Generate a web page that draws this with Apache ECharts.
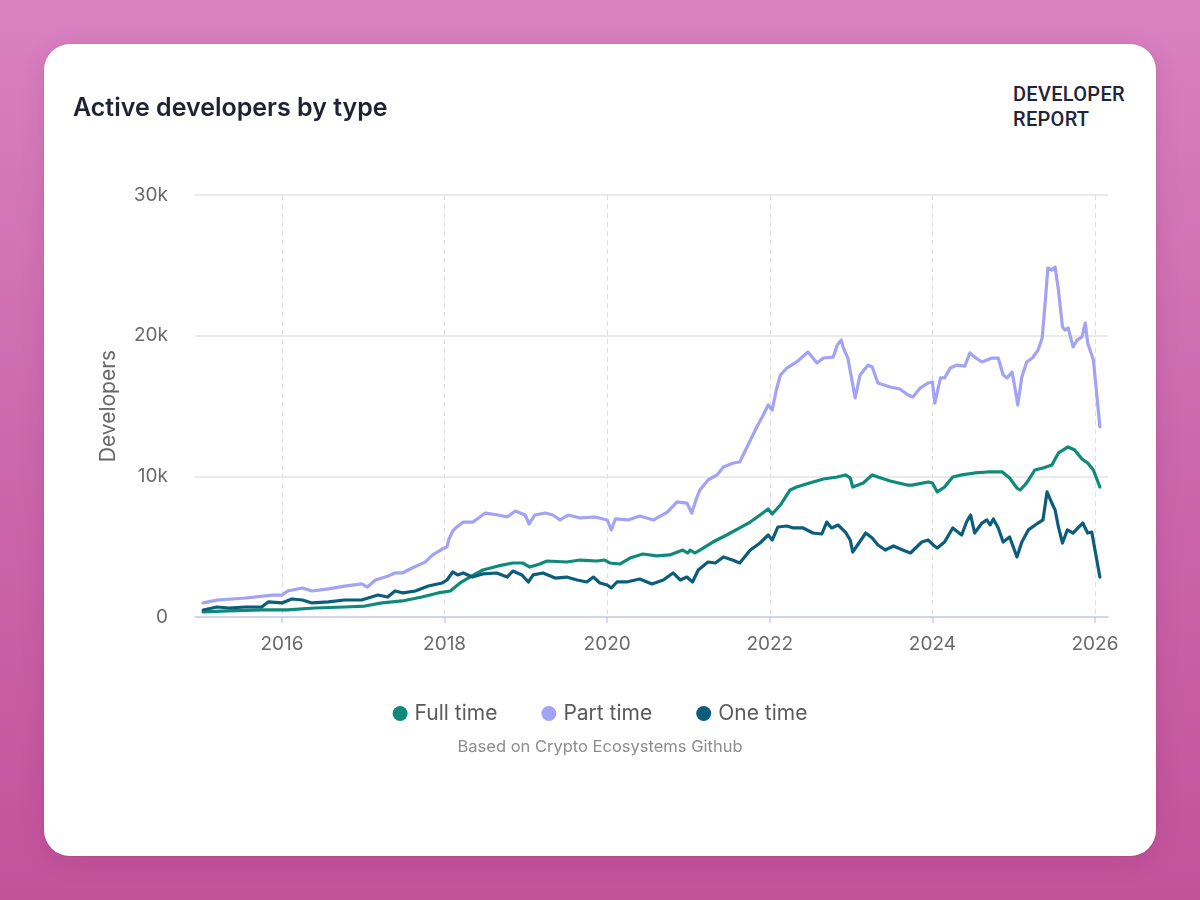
<!DOCTYPE html>
<html>
<head>
<meta charset="utf-8">
<script src="https://cdn.jsdelivr.net/npm/echarts@6/dist/echarts.min.js"></script>
<style>
  html, body { margin: 0; padding: 0; width: 1200px; height: 900px; overflow: hidden; }
  body { background: linear-gradient(180deg, #d981c1 0%, #cc68ad 50%, #c3529b 100%); position: relative; font-family: Inter, "Noto Sans", sans-serif; }
  #card { position: absolute; left: 44px; top: 44px; width: 1112px; height: 812px; background: #fff; border-radius: 26px;
          box-shadow: 0 0 0 1px rgba(120,30,90,0.06), 0 6px 24px rgba(90,20,70,0.12); }
  #brand { position: absolute; left: 1013px; top: 82px; font-family: Roboto, "DejaVu Sans", sans-serif; font-weight: 500;
           font-size: 20px; line-height: 25px; color: #22253a; letter-spacing: 0.3px; }
  #chart { position: absolute; left: 0; top: 0; width: 1200px; height: 900px; }
</style>
</head>
<body>
<div id="card"></div>
<div id="brand">DEVELOPER<br>REPORT</div>
<div id="chart"></div>
<script>
// ---- data (x = decimal year, y = active developers) ----
const seriesNames = ['Full time', 'Part time', 'One time'];
const seriesColors = ['#0e8a7b', '#a3a3f5', '#0b5d7b'];

const fullTimeYears = [2015.03,2015.34,2015.75,2016.07,2016.4,2016.77,2017.02,2017.23,2017.48,2017.72,2017.92,2018.07,2018.19,2018.31,2018.47,2018.66,2018.84,2018.96,2019.05,2019.17,2019.26,2019.5,2019.67,2019.87,2019.97,2020.03,2020.16,2020.28,2020.44,2020.61,2020.77,2020.93,2020.99,2021.02,2021.08,2021.18,2021.3,2021.47,2021.63,2021.76,2021.88,2021.98,2022.03,2022.13,2022.25,2022.33,2022.49,2022.66,2022.83,2022.93,2022.99,2023.02,2023.15,2023.26,2023.33,2023.48,2023.69,2023.75,2023.95,2024.0,2024.06,2024.15,2024.25,2024.36,2024.52,2024.68,2024.86,2024.95,2025.04,2025.08,2025.16,2025.26,2025.36,2025.47,2025.55,2025.67,2025.75,2025.84,2025.91,2025.98,2026.06];
const fullTimeValues = [360,430,500,500,640,710,780,1000,1140,1420,1710,1850,2420,2840,3340,3630,3840,3840,3550,3770,3980,3910,4050,3980,4050,3840,3770,4190,4480,4340,4410,4760,4550,4760,4550,4900,5330,5830,6330,6750,7250,7680,7320,7960,9030,9240,9530,9810,9950,10100,9880,9240,9530,10100,9950,9670,9380,9380,9600,9530,8890,9240,9950,10100,10240,10310,10310,9880,9170,9030,9530,10450,10590,10810,11660,12090,11870,11230,10950,10450,9240];

const partTimeYears = [2015.03,2015.2,2015.55,2015.88,2016.0,2016.07,2016.25,2016.37,2016.57,2016.77,2016.98,2017.05,2017.15,2017.3,2017.39,2017.48,2017.6,2017.76,2017.85,2017.97,2018.03,2018.05,2018.1,2018.15,2018.23,2018.35,2018.5,2018.66,2018.77,2018.87,2018.99,2019.04,2019.11,2019.24,2019.33,2019.42,2019.52,2019.67,2019.85,2020.0,2020.05,2020.1,2020.26,2020.4,2020.57,2020.74,2020.86,2020.98,2021.04,2021.1,2021.14,2021.24,2021.35,2021.43,2021.55,2021.63,2021.72,2021.84,2021.92,2021.98,2022.03,2022.08,2022.13,2022.21,2022.33,2022.47,2022.58,2022.66,2022.78,2022.83,2022.88,2022.9,2022.96,2023.01,2023.05,2023.11,2023.21,2023.26,2023.33,2023.48,2023.6,2023.7,2023.76,2023.85,2023.95,2024.0,2024.03,2024.1,2024.15,2024.22,2024.3,2024.4,2024.46,2024.52,2024.61,2024.73,2024.81,2024.87,2024.92,2024.98,2025.02,2025.05,2025.1,2025.16,2025.23,2025.3,2025.35,2025.39,2025.42,2025.47,2025.51,2025.55,2025.6,2025.63,2025.67,2025.73,2025.78,2025.84,2025.88,2025.91,2025.98,2026.02,2026.06];
const partTimeValues = [1000,1200,1350,1560,1560,1850,2060,1850,2000,2200,2350,2130,2630,2900,3130,3130,3480,3900,4400,4830,4980,5500,6100,6400,6750,6750,7390,7250,7110,7540,7250,6610,7250,7390,7250,6900,7250,7040,7110,6900,6190,6970,6900,7180,6900,7460,8180,8100,7390,8460,9030,9740,10100,10660,10950,11020,12090,13510,14360,15070,14720,16140,17200,17700,18130,18840,18060,18410,18480,19340,19690,19200,18410,16850,15570,17200,17910,17770,16640,16350,16210,15780,15640,16280,16640,16710,15210,17000,17000,17700,17910,17840,18770,18480,18130,18410,18410,17200,17000,17420,16140,15070,17060,18130,18410,18980,19830,22540,24810,24670,24880,23250,20620,20400,20550,19200,19690,19910,20900,19480,18270,15920,13510];

const oneTimeYears = [2015.03,2015.2,2015.35,2015.55,2015.75,2015.83,2016.0,2016.12,2016.25,2016.37,2016.57,2016.77,2016.98,2017.06,2017.18,2017.3,2017.39,2017.49,2017.64,2017.8,2017.97,2018.03,2018.1,2018.16,2018.23,2018.34,2018.47,2018.64,2018.77,2018.84,2018.95,2019.03,2019.09,2019.21,2019.36,2019.5,2019.63,2019.75,2019.83,2019.91,2020.0,2020.05,2020.12,2020.24,2020.4,2020.55,2020.69,2020.81,2020.9,2020.98,2021.05,2021.12,2021.24,2021.33,2021.43,2021.54,2021.63,2021.76,2021.88,2021.98,2022.03,2022.1,2022.21,2022.29,2022.41,2022.53,2022.64,2022.7,2022.76,2022.84,2022.93,2022.99,2023.02,2023.08,2023.18,2023.26,2023.33,2023.42,2023.52,2023.62,2023.73,2023.87,2023.95,2024.01,2024.06,2024.15,2024.25,2024.36,2024.42,2024.47,2024.52,2024.61,2024.67,2024.71,2024.75,2024.81,2024.87,2024.95,2025.04,2025.1,2025.18,2025.3,2025.36,2025.41,2025.47,2025.51,2025.55,2025.6,2025.66,2025.73,2025.79,2025.85,2025.91,2025.96,2026.0,2026.06];
const oneTimeValues = [500,710,640,710,710,1070,1000,1280,1210,1000,1070,1210,1210,1350,1560,1420,1850,1710,1850,2200,2420,2630,3200,2990,3130,2840,3060,3130,2840,3270,2990,2490,2990,3130,2770,2840,2630,2490,2840,2420,2280,2060,2490,2490,2700,2350,2630,3130,2630,2840,2490,3340,3910,3840,4270,4050,3840,4760,5260,5830,5470,6400,6470,6330,6330,5970,5900,6750,6330,6540,6040,5470,4620,5120,5970,5620,5120,4760,5050,4800,4550,5330,5470,5120,4900,5330,6330,5830,6750,7250,5970,6680,6900,6540,6970,6330,5330,5690,4270,5330,6190,6680,6900,8890,8100,7600,6400,5260,6190,5970,6330,6680,5970,6040,4760,2840];

const xTickYears = [2016, 2018, 2020, 2022, 2024, 2026];
const yTickLabels = ['0', '10k', '20k', '30k'];

// ---- chart ----
const pair = (xs, ys) => xs.map((x, i) => [x, ys[i]]);
const chart = echarts.init(document.getElementById('chart'), null, { renderer: 'canvas' });
const labelColor = '#696969';

chart.setOption({
  backgroundColor: 'transparent',
  animation: false,
  title: [
    { text: 'Active developers by type', left: 68, top: 91,
      textStyle: { fontFamily: 'Inter', fontSize: 25, fontWeight: 600, color: '#1f2233' } },
    { text: 'Based on Crypto Ecosystems Github', left: 'center', top: 734,
      textStyle: { fontFamily: 'Inter', fontSize: 16.5, fontWeight: 400, color: '#8c8c8c' } }
  ],
  legend: {
    data: seriesNames,
    left: 'center', top: 698,
    icon: 'circle', itemWidth: 15, itemHeight: 15, itemGap: 44,
    textStyle: { fontFamily: 'Inter', fontSize: 21, color: '#5a5a5a', padding: [0, 0, 0, 2] }
  },
  grid: { left: 195, right: 92, top: 195, bottom: 283, containLabel: false },
  xAxis: {
    type: 'value',
    min: 2014.93, max: 2026.16,
    axisLine: { show: true, lineStyle: { color: '#c9cdef', width: 1.5 } },
    axisTick: { show: true, customValues: xTickYears, length: 6, lineStyle: { color: '#c9cdef', width: 1.5 } },
    axisLabel: { customValues: xTickYears, formatter: v => String(Math.round(v)), margin: 18,
      fontFamily: 'Inter', fontSize: 19, color: labelColor },
    splitLine: { show: true, lineStyle: { color: '#dedede', type: [5, 4], width: 1 } }
  },
  yAxis: {
    type: 'value', min: 0, max: 30000, interval: 10000,
    name: 'Developers', nameLocation: 'middle', nameGap: 76, nameRotate: 90,
    nameTextStyle: { fontFamily: 'Inter', fontSize: 21, color: labelColor },
    axisLine: { show: false }, axisTick: { show: false },
    axisLabel: { formatter: v => yTickLabels[Math.round(v / 10000)], margin: 27,
      fontFamily: 'Inter', fontSize: 19, color: labelColor },
    splitLine: { lineStyle: { color: '#e3e3e3', width: 1.5 } }
  },
  series: [
    { name: seriesNames[0], type: 'line', data: pair(fullTimeYears, fullTimeValues), color: seriesColors[0],
      showSymbol: false, lineStyle: { width: 3.2, join: 'round', cap: 'round' }, z: 3 },
    { name: seriesNames[1], type: 'line', data: pair(partTimeYears, partTimeValues), color: seriesColors[1],
      showSymbol: false, lineStyle: { width: 3.2, join: 'round', cap: 'round' }, z: 2 },
    { name: seriesNames[2], type: 'line', data: pair(oneTimeYears, oneTimeValues), color: seriesColors[2],
      showSymbol: false, lineStyle: { width: 3.2, join: 'round', cap: 'round' }, z: 4 }
  ]
});
</script>
</body>
</html>
